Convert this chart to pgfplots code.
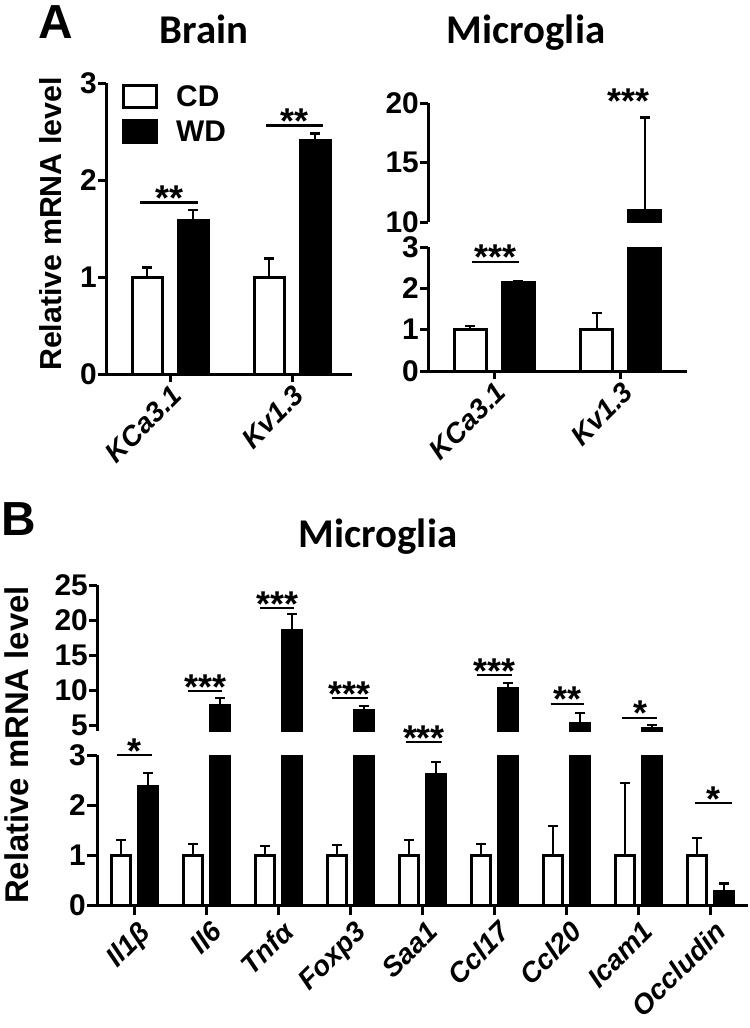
\documentclass[border=0pt]{standalone}
\usepackage{pgfplots}
\usepackage{pgfplotstable}
\pgfplotsset{compat=1.18}
\usepackage{fontspec}
\setmainfont{Liberation Sans}
\newfontfamily\titlefont{Carlito}
\newcommand{\fs}[1]{\fontsize{#1}{#1}\selectfont}
% significance line + stars: x1 x2 y xcenter text
\newcommand{\sig}[5]{%
  \draw[line width=2.5bp, black] (axis cs:#1,#3) -- (axis cs:#2,#3);
  \node[font=\bfseries\fs{36}, anchor=base, inner sep=0pt, yshift=-8bp] at (axis cs:#4,#3) {#5};
}
\newcommand{\stars}[3]{%
  \node[font=\bfseries\fs{36}, anchor=base, inner sep=0pt, yshift=-8bp] at (axis cs:#1,#2) {#3};
}

\pgfplotstableread{
x cd cde wd wde
0 1.0 0.30 2.38 0.26
1 1.0 0.22 7.91 1.0
2 1.0 0.18 18.5 2.4
3 1.0 0.20 7.2 0.57
4 1.0 0.30 2.62 0.24
5 1.0 0.22 10.34 0.7
6 1.0 0.58 5.34 1.43
7 1.0 1.44 4.49 0.57
8 1.0 0.34 0.28 0.15
}\Bdata

\pgfplotsset{
  base/.style={
    scale only axis,
    anchor=south west,
    axis x line*=bottom,
    axis y line*=left,
    axis line style={line width=3bp, black},
    every tick/.style={line width=3bp, black},
    major tick length=8bp,
    tick align=outside,
    clip mode=individual,
    clip marker paths=true,
    /pgf/number format/assume math mode=true,
    yticklabel style={font=\bfseries\fs{30}, inner sep=1bp},
    xticklabel style={font=\bfseries\itshape\fs{28}, rotate=45, anchor=north east, inner sep=1bp},
    every axis plot/.append style={
      /pgfplots/error bars/y dir=plus,
      /pgfplots/error bars/y explicit,
      /pgfplots/error bars/error bar style={line width=2.5bp, black, solid},
      /pgfplots/error bars/error mark options={rotate=90, mark size=5bp, line width=2.5bp, black},
    },
  },
  cdbar/.style={fill=white, draw=black, line width=3bp},
  wdbar/.style={fill=black, draw=black, line width=3bp},
}

\begin{document}
\begin{tikzpicture}
\useasboundingbox (0,0) rectangle (750bp,-1028bp);

% panel letters and titles
\node[font=\bfseries\fs{48}, anchor=base] at (56bp,-38bp) {A};
\node[font=\bfseries\fs{48}, anchor=base] at (19bp,-535bp) {B};
\node[font=\titlefont\bfseries\fs{41}, anchor=base] at (204bp,-43bp) {Brain};
\node[font=\titlefont\bfseries\fs{41}, anchor=base] at (526bp,-43bp) {Microglia};
\node[font=\titlefont\bfseries\fs{41}, anchor=base] at (378bp,-547bp) {Microglia};
\node[font=\bfseries\fs{30.5}, rotate=90] at (51bp,-224bp) {Relative mRNA level};
\node[font=\bfseries\fs{33}, rotate=90] at (17bp,-745bp) {Relative mRNA level};

% ---------- A: Brain ----------
\begin{axis}[base,
  at={(106bp,-374bp)}, width=246bp, height=291bp,
  xmin=-0.5246, xmax=1.4918, ymin=0, ymax=3,
  ytick={0,1,2,3}, xtick={0,1}, xticklabels={KCa3.1,Kv1.3},
  ybar, bar width=30bp,
  legend style={draw=none, fill=none, at={(0.065,1)}, anchor=north west,
    font=\bfseries\fs{30}, row sep=9bp, inner sep=0pt,
    /tikz/every odd column/.append style={column sep=16bp}},
  legend image code/.code={\draw[#1, line width=3bp] (0bp,-11bp) rectangle (33bp,11bp);},
  legend cell align=left,
]
\addplot[cdbar, bar shift=-23bp] coordinates {(0,1.0) +- (0,0.10) (1,1.0) +- (0,0.19)};
\addlegendentry{CD}
\addplot[wdbar, bar shift=23bp] coordinates {(0,1.58) +- (0,0.11) (1,2.41) +- (0,0.07)};
\addlegendentry{WD}
\sig{-0.246}{0.23}{1.77}{-0.008}{**}
\sig{0.787}{1.254}{2.56}{1.02}{**}
\end{axis}

% ---------- A: Microglia (bottom) ----------
\begin{axis}[base,
  at={(428bp,-371bp)}, width=259bp, height=124bp,
  xmin=-0.52, xmax=1.52, ymin=0, ymax=3,
  ytick={0,1,2,3}, xtick={0,1}, xticklabels={KCa3.1,Kv1.3},
  ybar, bar width=32bp,
]
\addplot[cdbar, bar shift=-24bp] coordinates {(0,1.0) +- (0,0.09) (1,1.0) +- (0,0.40)};
\addplot[wdbar, bar shift=24bp] coordinates {(0,2.13) +- (0,0.03) (1,11.0) +- (0,7.8)};
\sig{-0.173}{0.197}{2.64}{0.012}{***}
\end{axis}

% ---------- A: Microglia (top) ----------
\begin{axis}[base,
  at={(428bp,-222bp)}, width=259bp, height=119bp,
  xmin=-0.52, xmax=1.52, ymin=10, ymax=20,
  ytick={10,15,20}, hide x axis,
  ybar, bar width=32bp,
]
\addplot[wdbar, bar shift=24bp, restrict y to domain=10:100] coordinates {(0,2.13) +- (0,0.03) (1,11.0) +- (0,7.8)};
\stars{1.06}{19.75}{***}
\end{axis}

% ---------- B: Microglia (bottom) ----------
\begin{axis}[base,
  at={(97bp,-905bp)}, width=651bp, height=150bp,
  xmin=-0.521, xmax=8.52, ymin=0, ymax=3,
  ytick={0,1,2,3}, xtick={0,...,8},
  major tick length=10bp,
  xticklabel style={yshift=-4bp},
  xticklabels={Il1β,Il6,Tnfα,Foxp3,Saa1,Ccl17,Ccl20,Icam1,Occludin},
  ybar, bar width=19bp,
]
\addplot[cdbar, bar shift=-13.5bp] table[x=x, y=cd, y error=cde]{\Bdata};
\addplot[wdbar, bar shift=13.5bp] table[x=x, y=wd, y error=wde]{\Bdata};
\sig{-0.243}{0.243}{3.0}{0}{*}
\sig{3.77}{4.27}{3.26}{4.02}{***}
\sig{7.78}{8.30}{2.04}{8.04}{*}
\end{axis}

% ---------- B: Microglia (top) ----------
\begin{axis}[base,
  at={(97bp,-731bp)}, width=651bp, height=145.6bp,
  xmin=-0.521, xmax=8.52, ymin=4.2, ymax=25,
  ytick={5,10,15,20,25}, hide x axis,
  ybar, bar width=19bp,
]
\addplot[wdbar, bar shift=13.5bp, restrict y to domain=4.2:100] table[x=x, y=wd, y error=wde]{\Bdata};
\sig{0.743}{1.215}{9.91}{0.98}{***}
\sig{1.74}{2.22}{21.77}{1.98}{***}
\sig{2.74}{3.24}{8.91}{2.99}{***}
\sig{4.76}{5.24}{12.2}{5.0}{***}
\sig{5.78}{6.24}{8.06}{6.01}{**}
\sig{6.77}{7.26}{6.06}{7.02}{*}
\end{axis}
\end{tikzpicture}
\end{document}
